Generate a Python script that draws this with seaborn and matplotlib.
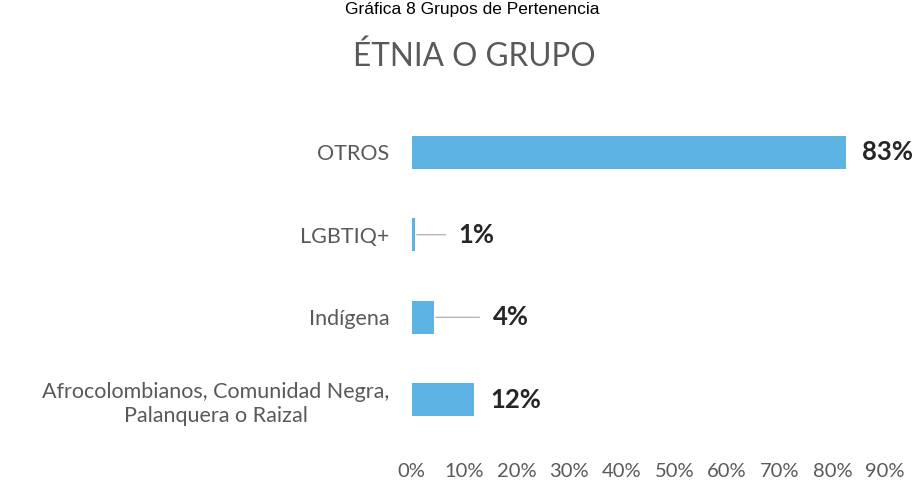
import matplotlib
matplotlib.use("Agg")
import matplotlib.pyplot as plt
import seaborn as sns
import pandas as pd

# ---- data ----
categories = ["OTROS", "LGBTIQ+", "Indígena",
              "Afrocolombianos, Comunidad Negra,\nPalanquera o Raizal"]
values = [0.826, 0.006, 0.042, 0.118]
value_labels = ["83%", "1%", "4%", "12%"]
xticks = [0.0, 0.1, 0.2, 0.3, 0.4, 0.5, 0.6, 0.7, 0.8, 0.9]
xtick_labels = ["0%", "10%", "20%", "30%", "40%", "50%", "60%", "70%", "80%", "90%"]
title = "ÉTNIA O GRUPO"
caption = "Gráfica 8 Grupos de Pertenencia"

sns.set_theme(style="white")
plt.rcParams["font.family"] = ["Lato", "DejaVu Sans"]

df = pd.DataFrame({"categoria": categories, "valor": values})

W, H = 919, 498
fig = plt.figure(figsize=(W / 100, H / 100), dpi=100)
fig.patch.set_facecolor("white")

ax_left, ax_right = 411.5, 885.0
ax_top, ax_bot = 111.0, 441.0
ax = fig.add_axes([ax_left / W, 1 - ax_bot / H, (ax_right - ax_left) / W, (ax_bot - ax_top) / H])

sns.barplot(data=df, x="valor", y="categoria", order=categories, orient="h",
            color="#5DB3E4", width=0.4, saturation=1, edgecolor="none", ax=ax)

ax.set_xlim(0, 0.9)
ax.set_ylim(len(categories) - 0.5, -0.5)
ax.set_xticks(xticks)
ax.set_xticklabels(xtick_labels)
ax.set_xlabel("")
ax.set_ylabel("")
for s in ax.spines.values():
    s.set_visible(False)
ax.tick_params(axis="x", length=0, pad=16, labelsize=14.5, labelcolor="#595959")
ax.tick_params(axis="y", length=0, pad=16, labelsize=15.5, labelcolor="#595959")
for t in ax.get_yticklabels():
    t.set_multialignment("center")
    t.set_linespacing(1.25)

# value labels (offsets in pixels from bar end), leader lines for small bars
offsets = [16, 44, 59, 17]
leaders = [False, True, True, False]
for i, (v, lab) in enumerate(zip(values, value_labels)):
    kw = {}
    if leaders[i]:
        kw["arrowprops"] = dict(arrowstyle="-", color="#a6a6a6", lw=0.8,
                                shrinkA=7, shrinkB=1.5)
    ax.annotate(lab, xy=(v, i), xytext=(offsets[i], 0), textcoords="offset pixels",
                ha="left", va="center", fontsize=18.5, fontweight="bold",
                color="#262626", annotation_clip=False, **kw)

fig.text(474 / W, 1 - 57 / H, title, ha="center", va="center",
         fontsize=22.7, color="#595959")
fig.text(472 / W, 1 - 14 / H, caption, ha="center", va="baseline",
         fontsize=12.5, color="black", family=["Liberation Sans", "DejaVu Sans"])

fig.savefig("out.png", dpi=100, facecolor="white")
